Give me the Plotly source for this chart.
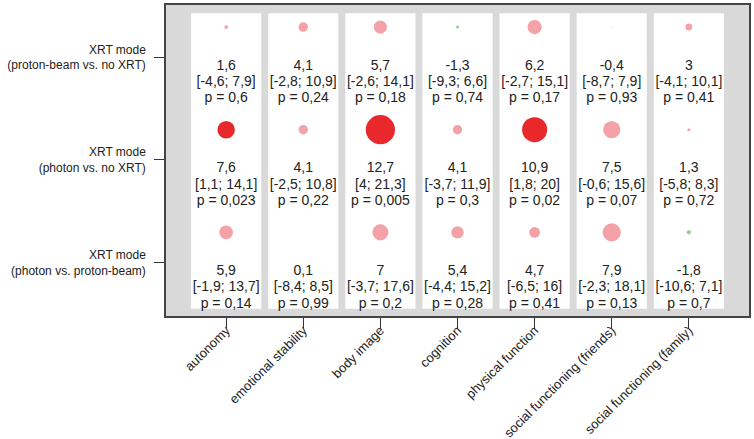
import plotly.graph_objects as go

outcomes = ["autonomy", "emotional stability", "body image", "cognition",
            "physical function", "social functioning (friends)", "social functioning (family)"]
comparisons = ["XRT mode<br>(proton-beam vs. no XRT)",
               "XRT mode<br>(photon vs. no XRT)",
               "XRT mode<br>(photon vs. proton-beam)"]

# estimates, lower CI, upper CI, p-values per comparison row
est_proton_none = [1.6, 4.1, 5.7, -1.3, 6.2, -0.4, 3]
lo_proton_none = [-4.6, -2.8, -2.6, -9.3, -2.7, -8.7, -4.1]
hi_proton_none = [7.9, 10.9, 14.1, 6.6, 15.1, 7.9, 10.1]
p_proton_none = [0.6, 0.24, 0.18, 0.74, 0.17, 0.93, 0.41]

est_photon_none = [7.6, 4.1, 12.7, 4.1, 10.9, 7.5, 1.3]
lo_photon_none = [1.1, -2.5, 4, -3.7, 1.8, -0.6, -5.8]
hi_photon_none = [14.1, 10.8, 21.3, 11.9, 20, 15.6, 8.3]
p_photon_none = [0.023, 0.22, 0.005, 0.3, 0.02, 0.07, 0.72]

est_photon_proton = [5.9, 0.1, 7, 5.4, 4.7, 7.9, -1.8]
lo_photon_proton = [-1.9, -8.4, -3.7, -4.4, -6.5, -2.3, -10.6]
hi_photon_proton = [13.7, 8.5, 17.6, 15.2, 16, 18.1, 7.1]
p_photon_proton = [0.14, 0.99, 0.2, 0.28, 0.41, 0.13, 0.7]

rows = [
    (est_proton_none, lo_proton_none, hi_proton_none, p_proton_none),
    (est_photon_none, lo_photon_none, hi_photon_none, p_photon_none),
    (est_photon_proton, lo_photon_proton, hi_photon_proton, p_photon_proton),
]

RED = "#e8282b"
PINK = "#f4a1a8"
GREEN = "#8fcf8f"
TXT = "#222222"
FONT = "Liberation Sans, Arial, sans-serif"


def fmt(v):
    return f"{v:g}".replace(".", ",")


def colour(e, p):
    if p < 0.05:
        return RED
    return PINK if e >= 0 else GREEN


fig = go.Figure()
xi = list(range(len(outcomes)))

for r, (est, lo, hi, pv) in enumerate(rows):
    fig.add_trace(go.Scatter(
        x=xi, y=[r - 0.295] * len(xi), mode="markers",
        marker=dict(size=[2.3 * abs(e) for e in est], sizemode="diameter",
                    color=[colour(e, p) for e, p in zip(est, pv)],
                    line=dict(width=0), opacity=1),
        hoverinfo="skip", showlegend=False))
    lines = [
        [fmt(e) for e in est],
        [f"[{fmt(a)}; {fmt(b)}]" for a, b in zip(lo, hi)],
        [f"p = {fmt(p)}" for p in pv],
    ]
    for k, off in enumerate([0.085, 0.245, 0.405]):
        fig.add_trace(go.Scatter(
            x=xi, y=[r + off] * len(xi), mode="text",
            text=lines[k], textposition="middle center",
            textfont=dict(family=FONT, size=14, color=TXT),
            hoverinfo="skip", showlegend=False))

shapes = []
for i in xi:
    shapes.append(dict(type="rect", xref="x", yref="y", x0=i - 0.455, x1=i + 0.455,
                       y0=-0.43, y1=2.45, fillcolor="white", line=dict(width=0),
                       layer="below"))

fig.update_layout(
    width=754, height=439,
    margin=dict(l=166, r=5, t=5, b=123),
    paper_bgcolor="white", plot_bgcolor="#d9d9d9",
    shapes=shapes,
    font=dict(family=FONT, size=12, color=TXT),
)
fig.update_xaxes(
    range=[-0.78, 6.78], tickmode="array", tickvals=xi, ticktext=outcomes,
    tickangle=-45, ticks="outside", ticklen=10, tickcolor="#333", tickwidth=1.2,
    showgrid=False, zeroline=False, showline=True, mirror=True, automargin=False,
    linecolor="#444", linewidth=1.5, tickfont=dict(size=13, color=TXT),
    ticklabelstandoff=-10)
fig.update_yaxes(
    range=[2.52, -0.51], tickmode="array", tickvals=[0, 1, 2], ticktext=comparisons,
    ticks="outside", ticklen=10, tickcolor="#333", tickwidth=1.2,
    showgrid=False, zeroline=False, showline=True, mirror=True, automargin=False,
    linecolor="#444", linewidth=1.5, tickfont=dict(size=12, color=TXT),
    ticklabelstandoff=6)

fig.write_html("out.html", config={"displayModeBar": False},
               post_script="document.body.style.margin='0px';")
